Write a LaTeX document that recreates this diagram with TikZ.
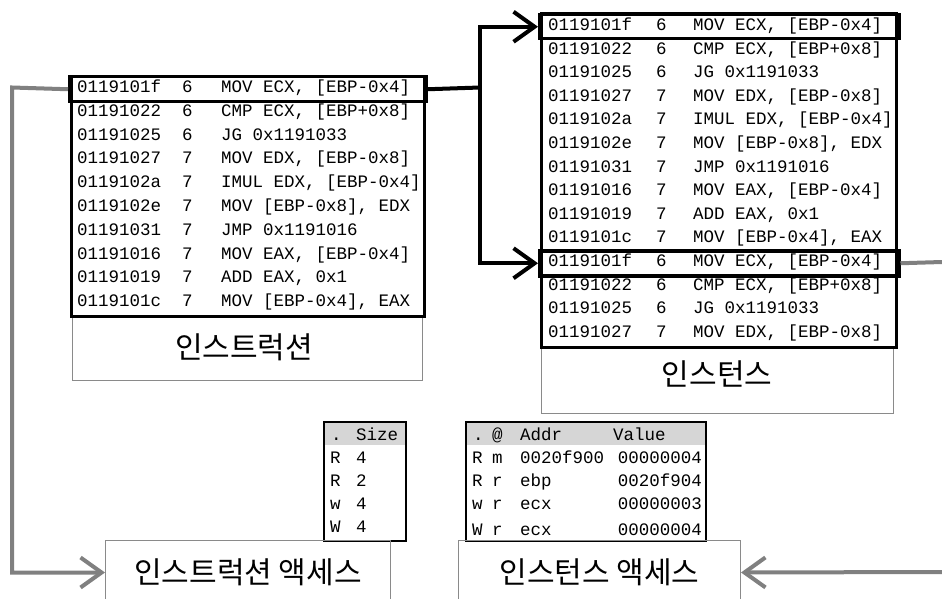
\documentclass[tikz,border=0pt]{standalone}
\usepackage{fontspec}
\setmonofont{Liberation Mono}
\newfontfamily\kr{Noto Sans CJK KR}
\usetikzlibrary{arrows.meta}
\definecolor{conngray}{HTML}{808080}
\definecolor{boxgray}{HTML}{8A8A8A}
\definecolor{hdrgray}{HTML}{D6D6D6}
\tikzset{
  codetxt/.style={font=\fontsize{17.5}{18}\selectfont\ttfamily, anchor=base west, inner sep=0pt},
  codetxtR/.style={codetxt, anchor=base east},
  codebox/.style={draw=black, line width=2.5pt, rectangle, inner sep=0pt, anchor=north west},
  hlbox/.style={draw=black, line width=3.5pt, rectangle, inner sep=0pt, anchor=north west},
  lblbox/.style={draw=boxgray, line width=1pt, rectangle, inner sep=0pt, anchor=north west},
  tblbox/.style={draw=black, line width=2pt, rectangle, inner sep=0pt, anchor=north west},
  hdr/.style={fill=hdrgray, rectangle, inner sep=0pt, anchor=north west},
  krlbl/.style={font=\kr\fontsize{30}{32}\selectfont, inner sep=0pt},
  accbox/.style={draw=boxgray, line width=1pt, rectangle, inner sep=0pt, anchor=north west,
    font=\kr\fontsize{30}{32}\selectfont},
  blkarrow/.style={line width=4pt, black, -{Straight Barb[length=21pt, width=30pt]}},
  grayline/.style={line width=4pt, conngray},
  grayarrow/.style={grayline, -{Straight Barb[length=21pt, width=30pt]}},
}
\begin{document}
\begin{tikzpicture}[x=1pt, y=-1pt]
\useasboundingbox (0,0) rectangle (942,599);

% ---------- left: instruction list ----------
\node[lblbox, minimum width=350pt, minimum height=65pt] (llbl) at (72,315) {};
\node[krlbl] (llbltxt) at (244,347) {인스트럭션};
\node[codebox, minimum width=353pt, minimum height=240pt] (lcode) at (70,75) {};
\foreach \a/\n/\t [count=\i from 0] in {
  0119101f/6/{MOV ECX, [EBP-0x4]},
  01191022/6/{CMP ECX, [EBP+0x8]},
  01191025/6/{JG 0x1191033},
  01191027/7/{MOV EDX, [EBP-0x8]},
  0119102a/7/{IMUL EDX, [EBP-0x4]},
  0119102e/7/{MOV [EBP-0x8], EDX},
  01191031/7/{JMP 0x1191016},
  01191016/7/{MOV EAX, [EBP-0x4]},
  01191019/7/{ADD EAX, 0x1},
  0119101c/7/{MOV [EBP-0x4], EAX}}{
  \node[codetxt] (la\i) at (77,{92.5+23.8*\i}) {\a};
  \node[codetxt] (ln\i) at (182,{92.5+23.8*\i}) {\n};
  \node[codetxt] (lt\i) at (221,{92.5+23.8*\i}) {\t};
}
\node[hlbox, minimum width=356pt, minimum height=25pt] (lhl) at (68,75) {};

% ---------- right: instance list ----------
\node[lblbox, minimum width=352pt, minimum height=67pt] (rlbl) at (541,346) {};
\node[krlbl] (rlbltxt) at (717,374) {인스턴스};
\node[codebox, minimum width=355pt, minimum height=334pt] (rcode) at (540,12) {};
\foreach \a/\n/\t [count=\i from 0] in {
  0119101f/6/{MOV ECX, [EBP-0x4]},
  01191022/6/{CMP ECX, [EBP+0x8]},
  01191025/6/{JG 0x1191033},
  01191027/7/{MOV EDX, [EBP-0x8]},
  0119102a/7/{IMUL EDX, [EBP-0x4]},
  0119102e/7/{MOV [EBP-0x8], EDX},
  01191031/7/{JMP 0x1191016},
  01191016/7/{MOV EAX, [EBP-0x4]},
  01191019/7/{ADD EAX, 0x1},
  0119101c/7/{MOV [EBP-0x4], EAX},
  0119101f/6/{MOV ECX, [EBP-0x4]},
  01191022/6/{CMP ECX, [EBP+0x8]},
  01191025/6/{JG 0x1191033},
  01191027/7/{MOV EDX, [EBP-0x8]}}{
  \node[codetxt] (ra\i) at (548,{30.5+23.6*\i}) {\a};
  \node[codetxt] (rn\i) at (656,{30.5+23.6*\i}) {\n};
  \node[codetxt] (rt\i) at (693,{30.5+23.6*\i}) {\t};
}
\node[hlbox, minimum width=359pt, minimum height=24pt] (rhl1) at (538,13) {};
\node[hlbox, minimum width=359pt, minimum height=25pt] (rhl2) at (538,249) {};

% ---------- size table ----------
\node[hdr, minimum width=82pt, minimum height=24pt] (shdr) at (323,421) {};
\node[codetxt] (sh1) at (331,440) {.};
\node[codetxt] (sh2) at (356,440) {Size};
\foreach \k/\v [count=\i from 0] in {R/4, R/2, w/4, W/4}{
  \node[codetxt] (sk\i) at (330,{463+23*\i}) {\k};
  \node[codetxt] (sv\i) at (356,{463+23*\i}) {\v};
}
\node[tblbox, minimum width=82pt, minimum height=119pt] (stbl) at (323,421) {};

% ---------- access table ----------
\node[hdr, minimum width=240pt, minimum height=24pt] (ahdr) at (465,421) {};
\node[codetxt] (ah1) at (473,440) {.};
\node[codetxt] (ah2) at (492,440) {@};
\node[codetxt] (ah3) at (520,440) {Addr};
\node[codetxt] (ah4) at (613,440) {Value};
\foreach \k/\m/\ad/\v/\yy [count=\i from 0] in {R/m/0020f900/00000004/463, R/r/ebp/0020f904/486, w/r/ecx/00000003/509, W/r/ecx/00000004/535}{
  \node[codetxt] (ak\i) at (472,\yy) {\k};
  \node[codetxt] (am\i) at (492,\yy) {\m};
  \node[codetxt] (aa\i) at (520,\yy) {\ad};
  \node[codetxtR] (av\i) at (702,\yy) {\v};
}
\node[tblbox, minimum width=240pt, minimum height=119pt] (atbl) at (465,421) {};

% ---------- access boxes ----------
\node[accbox, minimum width=285pt, minimum height=64pt] (iacc) at (105,540) {인스트럭션 액세스};
\node[accbox, minimum width=282pt, minimum height=64pt] (nacc) at (458,540) {인스턴스 액세스};

% ---------- connectors ----------
\coordinate (j) at (480,87.5);
\draw[line width=4pt] (lhl.east) -- (j);
\draw[blkarrow] (j) |- (rhl1.west);
\draw[blkarrow] (j) |- (rhl2.west);
\coordinate (lc) at (12,87.5);
\draw[grayarrow] (lhl.west) -- (lc) |- (iacc.west);
\coordinate (re1) at (942,262);
\draw[grayline] (rhl2.east) -- (re1);
\coordinate (re2) at (942,572);
\draw[grayarrow] (re2) -- (nacc.east);
\end{tikzpicture}
\end{document}
